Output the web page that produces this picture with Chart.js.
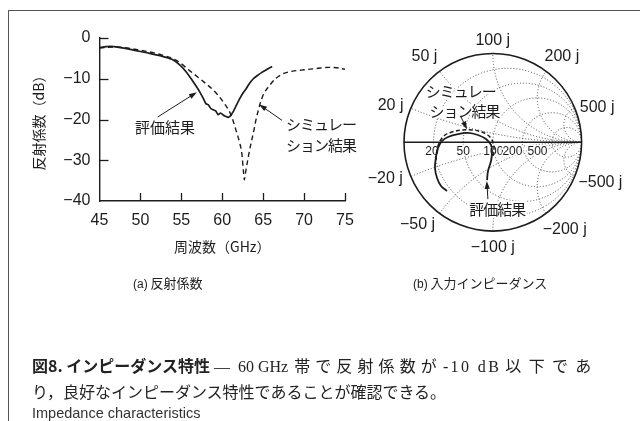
<!DOCTYPE html>
<html>
<head>
<meta charset="utf-8">
<script src="https://cdn.jsdelivr.net/npm/chart.js@4.4.1/dist/chart.umd.min.js"></script>
<style>
  html, body { margin: 0; padding: 0; background: #fff; }
  #page { position: relative; width: 640px; height: 421px; overflow: hidden; color: #222;
          font-family: "Liberation Sans", Arial, "Noto Sans CJK JP", sans-serif; }
  #frame { position: absolute; left: 8px; top: 10px; width: 640px; height: 420px;
           border-left: 1px solid #555; border-top: 1px solid #555; }
  canvas { position: absolute; left: 0; top: 0; }
  .t { position: absolute; white-space: nowrap; }
  .sub { font-size: 13px; font-family: "Noto Sans CJK JP", sans-serif; top: 273px; }
  .sub span { font-family: "Liberation Sans", sans-serif; font-size: 12px; }
  #cap1 { left: 32px; top: 353px; font-size: 16px; }
  #cap1 b { font-family: "Noto Sans CJK JP", sans-serif; font-weight: 700; }
  .serif { font-family: "Liberation Serif", "Noto Sans CJK JP", serif; }
  .wide1 { letter-spacing: 5.1px; margin-left: 6px; }
  .wide2 { letter-spacing: 2.4px; margin-left: 1px; }
  .wide3 { letter-spacing: 7.4px; margin-left: 4px; }
  #cap2 { left: 32px; top: 379px; font-size: 16px; }
  #cap3 { left: 32px; top: 405px; font-size: 14.5px; color: #333; }
</style>
</head>
<body>
<div id="page">
  <div id="frame"></div>
  <canvas id="s11" width="640" height="421" style="width:640px;height:421px"></canvas>
  <canvas id="smith" width="640" height="421" style="width:640px;height:421px"></canvas>
  <div class="t sub" style="left:133px"><span>(a)</span> 反射係数</div>
  <div class="t sub" style="left:413px"><span>(b)</span> 入力インピーダンス</div>
  <div class="t" id="cap1"><b>図8.&nbsp;インピーダンス特性</b><span class="serif">&nbsp;—&nbsp;&nbsp;60 GHz<span class="wide1">帯で反射係数が</span><span class="wide2">-10 dB</span><span class="wide3">以下であ</span></span></div>
  <div class="t serif" id="cap2">り，良好なインピーダンス特性であることが確認できる。</div>
  <div class="t" id="cap3">Impedance characteristics</div>
</div>
<script>
// ---- reflection coefficient vs. frequency ----
const ghzTicks = [45, 50, 55, 60, 65, 70, 75];
const dbTicks = [0, -10, -20, -30, -40];

// measured S11 (評価結果)
const freqMeas = [45.0, 45.8, 46.8, 48.0, 49.5, 51.0, 52.5, 53.9, 54.8, 55.5, 56.2, 56.8, 57.3, 57.7,
                  58.0, 58.3, 58.6, 58.9, 59.2, 59.5, 59.8, 60.1, 60.4, 60.7, 61.0, 61.3, 61.7, 62.1,
                  62.5, 62.9, 63.3, 63.8, 64.3, 64.8, 65.3, 65.7, 66.1];
const s11Meas = [-2.4, -2.1, -2.1, -2.5, -3.1, -3.7, -4.4, -5.3, -6.6, -8.1, -10.0, -11.8, -13.4, -14.9,
                 -16.1, -16.4, -17.3, -17.6, -17.9, -18.8, -18.4, -18.9, -19.2, -19.5, -19.1, -18.2, -16.6, -15.0,
                 -13.6, -12.5, -11.2, -10.0, -9.2, -8.5, -7.9, -7.4, -7.0];

// simulated S11 (シミュレーション結果)
const freqSim = [45.0, 47.0, 50.0, 52.5, 54.5, 56.0, 57.7, 59.3, 60.4, 61.1, 61.7, 62.1, 62.4, 62.6,
                 62.7, 62.85, 63.2, 63.5, 63.8, 64.1, 64.4, 64.7, 65.0, 65.8, 66.5, 67.4, 68.5, 70.0,
                 71.5, 73.0, 74.0, 75.0];
const s11Sim = [-2.4, -2.2, -3.0, -4.1, -5.6, -8.0, -10.7, -13.6, -16.5, -19.0, -22.8, -25.5, -28.5, -33.0,
                -34.8, -33.0, -29.0, -26.0, -23.3, -20.3, -17.8, -15.7, -14.0, -11.6, -10.0, -8.8, -8.2, -7.8,
                -7.5, -7.2, -7.3, -7.7];

// ---- input impedance on the Smith chart (reflection coefficient, Z0 = 100 ohm) ----
const z0 = 100;
const resistanceTicks = [20, 50, 100, 200, 500];
const reactanceTicks = [20, 50, 100, 200, 500];

const simRe = [-0.640, -0.628, -0.595, -0.538, -0.459, -0.347, -0.234, -0.122, -0.043, 0.002, 0.014, 0.002];
const simIm = [-0.199, -0.087, 0.015, 0.082, 0.116, 0.139, 0.139, 0.116, 0.071, 0.003, -0.087, -0.154];

const measRe = [-0.516, -0.583, -0.628, -0.651, -0.640, -0.617, -0.572, -0.505, -0.392, -0.279, -0.167,
                -0.077, -0.020, -0.009, -0.020, -0.054, -0.065];
const measIm = [-0.548, -0.492, -0.402, -0.289, -0.166, -0.064, 0.015, 0.060, 0.093, 0.105, 0.082,
                0.037, -0.030, -0.109, -0.211, -0.324, -0.426];

const INK = '#1c1c1c';
const SANS = '"Liberation Sans", Arial, sans-serif';
const JP = '"Noto Sans CJK JP", sans-serif';

function pairs(xs, ys) { return xs.map((v, i) => ({ x: v, y: ys[i] })); }
function minusSign(v) { return v < 0 ? '\u2212' + Math.abs(v) : String(v); }

function arrow(ctx, x0, y0, x1, y1) {
  const a = Math.atan2(y1 - y0, x1 - x0), L = 8, W = 2.6;
  ctx.beginPath();
  ctx.moveTo(x0, y0);
  ctx.lineTo(x1 - Math.cos(a) * L * 0.8, y1 - Math.sin(a) * L * 0.8);
  ctx.lineWidth = 1; ctx.strokeStyle = INK; ctx.stroke();
  ctx.beginPath();
  ctx.moveTo(x1, y1);
  ctx.lineTo(x1 - Math.cos(a) * L - Math.sin(a) * W, y1 - Math.sin(a) * L + Math.cos(a) * W);
  ctx.lineTo(x1 - Math.cos(a) * L + Math.sin(a) * W, y1 - Math.sin(a) * L - Math.cos(a) * W);
  ctx.closePath(); ctx.fillStyle = INK; ctx.fill();
}

// inward tick marks, axis titles and call-outs for the S11 plot
const s11Decor = {
  id: 's11Decor',
  afterDraw(chart) {
    const { ctx, chartArea: ca, scales: { x, y } } = chart;
    ctx.save();
    ctx.strokeStyle = INK; ctx.lineWidth = 1.3;
    ghzTicks.forEach(v => {
      if (v === ghzTicks[0]) return;
      const px = Math.round(x.getPixelForValue(v)) + 0.5;
      ctx.beginPath(); ctx.moveTo(px, ca.bottom); ctx.lineTo(px, ca.bottom - 8); ctx.stroke();
    });
    dbTicks.forEach(v => {
      if (v === dbTicks[dbTicks.length - 1]) return;
      const py = Math.round(y.getPixelForValue(v)) + 0.5;
      ctx.beginPath(); ctx.moveTo(ca.left, py); ctx.lineTo(ca.left + 9, py); ctx.stroke();
    });

    ctx.fillStyle = INK;
    ctx.font = '14px ' + JP;
    ctx.textAlign = 'center'; ctx.textBaseline = 'middle';
    ctx.fillText('周波数（GHz）', (ca.left + ca.right) / 2, ca.bottom + 46);
    ctx.save();
    ctx.translate(ca.left - 61, (ca.top + ca.bottom) / 2);
    ctx.rotate(-Math.PI / 2);
    ctx.fillText('反射係数（dB）', 0, 0);
    ctx.restore();

    ctx.font = '15px ' + JP;
    ctx.fillText('評価結果', x.getPixelForValue(53.0), y.getPixelForValue(-21.9));
    arrow(ctx, x.getPixelForValue(52.1), y.getPixelForValue(-19.4), x.getPixelForValue(56.9), y.getPixelForValue(-13.3));

    ctx.textAlign = 'left';
    ctx.letterSpacing = '-1px';
    ctx.fillText('シミュレー', x.getPixelForValue(67.8), y.getPixelForValue(-21.2));
    ctx.fillText('ション結果', x.getPixelForValue(67.8), y.getPixelForValue(-26.3));
    ctx.letterSpacing = '0px';
    arrow(ctx, x.getPixelForValue(67.3), y.getPixelForValue(-20.2), x.getPixelForValue(64.5), y.getPixelForValue(-16.3));
    ctx.restore();
  }
};

new Chart(document.getElementById('s11'), {
  type: 'scatter',
  data: {
    datasets: [
      { label: 'シミュレーション結果', data: pairs(freqSim, s11Sim), showLine: true,
        borderColor: INK, borderWidth: 1.4, borderDash: [5, 3.5], pointRadius: 0,
        cubicInterpolationMode: 'monotone' },
      { label: '評価結果', data: pairs(freqMeas, s11Meas), showLine: true,
        borderColor: INK, borderWidth: 1.7, pointRadius: 0, tension: 0.2 }
    ]
  },
  options: {
    responsive: false, animation: false, events: [],
    layout: { padding: { left: 0, top: 38, right: 295, bottom: 180 } },
    plugins: { legend: { display: false }, tooltip: { enabled: false } },
    scales: {
      x: {
        type: 'linear', min: 45, max: 75,
        afterBuildTicks: s => { s.ticks = ghzTicks.map(v => ({ value: v })); },
        afterFit: s => { s.height = 40; },
        grid: { display: false, drawTicks: false },
        border: { display: true, color: INK, width: 1.4 },
        ticks: { color: INK, padding: 10, maxRotation: 0, font: { family: SANS, size: 16 } }
      },
      y: {
        type: 'linear', min: -40, max: 0,
        afterBuildTicks: s => { s.ticks = dbTicks.map(v => ({ value: v })); },
        afterFit: s => { s.width = 99.5; },
        grid: { display: false, drawTicks: false },
        border: { display: true, color: INK, width: 1.4 },
        ticks: { color: INK, padding: 9, font: { family: SANS, size: 16 }, callback: v => minusSign(v) }
      }
    }
  },
  plugins: [s11Decor]
});

// Smith chart grid and resistance values (under the traces), rim labels and call-outs (over them)
const smithGrid = {
  id: 'smithGrid',
  beforeDatasetsDraw(chart) {
    const { ctx, scales: { x, y } } = chart;
    const cx = x.getPixelForValue(0), cy = y.getPixelForValue(0);
    const R = x.getPixelForValue(1) - cx, Ry = cy - y.getPixelForValue(1);
    ctx.save();
    ctx.beginPath(); ctx.ellipse(cx, cy, R, Ry, 0, 0, Math.PI * 2); ctx.clip();
    ctx.setLineDash([1, 2]); ctx.strokeStyle = '#4a4a4a'; ctx.lineWidth = 1;
    resistanceTicks.forEach(ohm => {
      const r = ohm / z0;
      ctx.beginPath();
      ctx.ellipse(x.getPixelForValue(r / (1 + r)), cy, R / (1 + r), Ry / (1 + r), 0, 0, Math.PI * 2);
      ctx.stroke();
    });
    reactanceTicks.forEach(ohm => {
      const xr = ohm / z0;
      [1, -1].forEach(sg => {
        ctx.beginPath();
        ctx.ellipse(x.getPixelForValue(1), y.getPixelForValue(sg / xr), R / xr, Ry / xr, 0, 0, Math.PI * 2);
        ctx.stroke();
      });
    });
    ctx.restore();

    ctx.save();
    ctx.strokeStyle = INK; ctx.lineWidth = 1.6;
    ctx.beginPath(); ctx.ellipse(cx, cy, R, Ry, 0, 0, Math.PI * 2); ctx.stroke();
    ctx.beginPath(); ctx.moveTo(cx - R, cy); ctx.lineTo(cx + R, cy); ctx.stroke();

    // resistance values along the real axis
    ctx.fillStyle = INK;
    ctx.textAlign = 'center'; ctx.textBaseline = 'middle';
    ctx.font = '12px ' + SANS;
    const shiftR = { 20: -1.6, 50: 0, 100: 0.5, 200: -10, 500: -14.5 };
    resistanceTicks.forEach(ohm => {
      const r = ohm / z0;
      const g = (r - 1) / (r + 1);
      const px = x.getPixelForValue(g) + shiftR[ohm], py = cy + 9.5;
      ctx.lineWidth = 3; ctx.strokeStyle = '#fff';
      ctx.strokeText(String(ohm), px, py);
      ctx.fillText(String(ohm), px, py);
    });
    ctx.restore();
  },
  afterDatasetsDraw(chart) {
    const { ctx, scales: { x, y } } = chart;
    const cx = x.getPixelForValue(0), cy = y.getPixelForValue(0);
    const R = x.getPixelForValue(1) - cx, Ry = cy - y.getPixelForValue(1);
    ctx.save();
    ctx.fillStyle = INK;
    ctx.textAlign = 'center'; ctx.textBaseline = 'middle';

    // reactance values around the rim
    ctx.font = '16px ' + SANS;
    const nudge = { '20': [0, 4], '-20': [-1, -4], '50': [-2, -2], '-50': [-6, -2],
                    '100': [0, 3], '-100': [0, 0], '200': [0, -2], '-200': [0, 3],
                    '500': [-2, 6], '-500': [-3, 0] };
    reactanceTicks.forEach(ohm => {
      const xr = ohm / z0;
      const th = Math.PI - 2 * Math.atan(xr);
      [1, -1].forEach(sg => {
        const txt = (sg < 0 ? '\u2212' : '') + ohm + ' j';
        const w = ctx.measureText(txt).width / 2;
        const dx = Math.cos(th), dy = Math.sin(th) * sg;
        const nd = nudge[String(sg * ohm)];
        const px = cx + dx * (R + 9) + dx * w + nd[0];
        const py = cy - dy * (Ry + 9) - dy * 7 + nd[1];
        ctx.fillText(txt, px, py);
      });
    });

    // call-outs
    ctx.font = '15px ' + JP;
    ctx.letterSpacing = '-1px';
    ctx.lineWidth = 4; ctx.strokeStyle = '#fff'; ctx.lineJoin = 'round';
    const put = (t, gx, gy) => {
      const px = x.getPixelForValue(gx), py = y.getPixelForValue(gy);
      ctx.strokeText(t, px, py); ctx.fillText(t, px, py);
    };
    put('シミュレー', -0.36, 0.57);
    put('ション結果', -0.32, 0.345);
    put('評価結果', 0.05, -0.76);
    ctx.letterSpacing = '0px';
    arrow(ctx, x.getPixelForValue(-0.36), y.getPixelForValue(0.29), x.getPixelForValue(-0.29), y.getPixelForValue(0.145));
    arrow(ctx, x.getPixelForValue(-0.055), y.getPixelForValue(-0.64), x.getPixelForValue(-0.068), y.getPixelForValue(-0.435));
    ctx.restore();
  }
};

new Chart(document.getElementById('smith'), {
  type: 'scatter',
  data: {
    datasets: [
      { label: 'シミュレーション結果', data: pairs(simRe, simIm), showLine: true,
        borderColor: INK, borderWidth: 1.5, borderDash: [4, 2.5], pointRadius: 0, tension: 0.35 },
      { label: '評価結果', data: pairs(measRe, measIm), showLine: true,
        borderColor: INK, borderWidth: 1.8, pointRadius: 0, tension: 0.35 }
    ]
  },
  options: {
    responsive: false, animation: false, events: [],
    layout: { padding: { left: 404, right: 58.4, top: 53.5, bottom: 189.9 } },
    plugins: { legend: { display: false }, tooltip: { enabled: false } },
    scales: {
      x: { type: 'linear', display: false, min: -1, max: 1 },
      y: { type: 'linear', display: false, min: -1, max: 1 }
    }
  },
  plugins: [smithGrid]
});
</script>
</body>
</html>
